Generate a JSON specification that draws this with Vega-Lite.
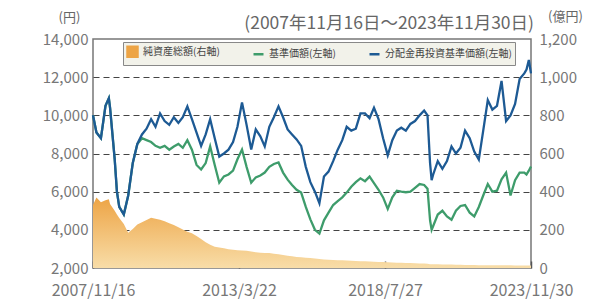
{
  "$schema": "https://vega.github.io/schema/vega-lite/v6.json",
  "autosize": {"type": "none"},
  "width": 438,
  "height": 229,
  "padding": {"left": 93, "top": 39, "right": 72, "bottom": 32},
  "background": "white",
  "title": {"text": "(2007年11月16日～2023年11月30日)", "anchor": "end", "frame": "group", "fontSize": 17.5, "font": "Noto Sans CJK JP", "fontWeight": "normal", "color": "#666", "offset": -22, "dx": 3},
  "config": {"view": {"stroke": "#777", "strokeWidth": 1.5}, "font": "Noto Sans CJK JP"},
  "data": {"values": [
    {"date": "2007/11/16", "nav": 10000, "navr": 10000, "aum": 330},
    {"date": "2008/01/01", "nav": 9100, "navr": 9100, "aum": 370},
    {"date": "2008/03/01", "nav": 8800, "navr": 8800, "aum": 345},
    {"date": "2008/05/01", "nav": 10500, "navr": 10500, "aum": 355},
    {"date": "2008/06/15", "nav": 10900, "navr": 10900, "aum": 360},
    {"date": "2008/07/01", "nav": 10400, "navr": 10400, "aum": 335},
    {"date": "2008/09/01", "nav": 7700, "navr": 7700, "aum": 300},
    {"date": "2008/10/01", "nav": 6000, "navr": 6000, "aum": 280},
    {"date": "2008/11/01", "nav": 5200, "navr": 5200, "aum": 262},
    {"date": "2009/01/01", "nav": 4800, "navr": 4800, "aum": 230},
    {"date": "2009/03/01", "nav": 5800, "navr": 5800, "aum": 185},
    {"date": "2009/05/01", "nav": 7500, "navr": 7500, "aum": 205},
    {"date": "2009/07/01", "nav": 8500, "navr": 8500, "aum": 228},
    {"date": "2009/09/01", "nav": 8800, "navr": 9000, "aum": 240},
    {"date": "2009/11/01", "nav": 8700, "navr": 9300, "aum": 252},
    {"date": "2010/01/01", "nav": 8600, "navr": 9800, "aum": 263},
    {"date": "2010/03/01", "nav": 8400, "navr": 9400, "aum": 258},
    {"date": "2010/05/01", "nav": 8300, "navr": 10100, "aum": 253},
    {"date": "2010/07/01", "nav": 8400, "navr": 9700, "aum": 245},
    {"date": "2010/09/01", "nav": 8200, "navr": 9500, "aum": 235},
    {"date": "2010/11/01", "nav": 8370, "navr": 9900, "aum": 225},
    {"date": "2011/01/01", "nav": 8500, "navr": 9600, "aum": 214},
    {"date": "2011/03/01", "nav": 8300, "navr": 9900, "aum": 202},
    {"date": "2011/05/01", "nav": 8700, "navr": 10470, "aum": 190},
    {"date": "2011/07/01", "nav": 8200, "navr": 9800, "aum": 182},
    {"date": "2011/09/01", "nav": 7400, "navr": 9100, "aum": 168},
    {"date": "2011/11/01", "nav": 7160, "navr": 8400, "aum": 152},
    {"date": "2012/01/01", "nav": 7500, "navr": 9000, "aum": 135},
    {"date": "2012/03/01", "nav": 8370, "navr": 9800, "aum": 122},
    {"date": "2012/05/01", "nav": 7400, "navr": 8800, "aum": 112},
    {"date": "2012/07/01", "nav": 6470, "navr": 7840, "aum": 108},
    {"date": "2012/09/01", "nav": 6800, "navr": 8000, "aum": 103},
    {"date": "2012/11/01", "nav": 6900, "navr": 8200, "aum": 98},
    {"date": "2013/01/01", "nav": 7100, "navr": 8600, "aum": 95},
    {"date": "2013/03/01", "nav": 7700, "navr": 9400, "aum": 93},
    {"date": "2013/05/01", "nav": 8210, "navr": 10680, "aum": 92},
    {"date": "2013/07/01", "nav": 7300, "navr": 9500, "aum": 90},
    {"date": "2013/09/01", "nav": 6470, "navr": 8210, "aum": 87},
    {"date": "2013/11/01", "nav": 6750, "navr": 9260, "aum": 82},
    {"date": "2014/01/01", "nav": 6850, "navr": 8900, "aum": 80},
    {"date": "2014/03/01", "nav": 7000, "navr": 8370, "aum": 79},
    {"date": "2014/05/01", "nav": 7300, "navr": 9400, "aum": 78},
    {"date": "2014/07/01", "nav": 7450, "navr": 9900, "aum": 75},
    {"date": "2014/09/01", "nav": 7530, "navr": 10470, "aum": 72},
    {"date": "2014/11/01", "nav": 7000, "navr": 9900, "aum": 68},
    {"date": "2015/01/01", "nav": 6630, "navr": 9260, "aum": 64},
    {"date": "2015/03/01", "nav": 6350, "navr": 9000, "aum": 61},
    {"date": "2015/05/01", "nav": 6100, "navr": 8740, "aum": 58},
    {"date": "2015/07/01", "nav": 5950, "navr": 8400, "aum": 56},
    {"date": "2015/09/01", "nav": 5200, "navr": 7300, "aum": 54},
    {"date": "2015/11/01", "nav": 4550, "navr": 6500, "aum": 53},
    {"date": "2016/01/01", "nav": 4000, "navr": 6000, "aum": 50},
    {"date": "2016/03/01", "nav": 3800, "navr": 5400, "aum": 47},
    {"date": "2016/05/01", "nav": 4500, "navr": 6790, "aum": 45},
    {"date": "2016/07/01", "nav": 4900, "navr": 7050, "aum": 43},
    {"date": "2016/09/01", "nav": 5300, "navr": 7600, "aum": 42},
    {"date": "2016/11/01", "nav": 5500, "navr": 8200, "aum": 41},
    {"date": "2017/01/01", "nav": 5700, "navr": 8700, "aum": 40},
    {"date": "2017/03/01", "nav": 5950, "navr": 9400, "aum": 39},
    {"date": "2017/05/01", "nav": 6260, "navr": 9200, "aum": 38},
    {"date": "2017/07/01", "nav": 6500, "navr": 9300, "aum": 37},
    {"date": "2017/09/01", "nav": 6700, "navr": 10100, "aum": 36},
    {"date": "2017/11/01", "nav": 6550, "navr": 10100, "aum": 35},
    {"date": "2018/01/01", "nav": 6790, "navr": 9850, "aum": 34},
    {"date": "2018/03/01", "nav": 6450, "navr": 10400, "aum": 33},
    {"date": "2018/05/01", "nav": 6100, "navr": 9800, "aum": 32},
    {"date": "2018/07/01", "nav": 5700, "navr": 8800, "aum": 31},
    {"date": "2018/09/01", "nav": 5100, "navr": 7900, "aum": 30},
    {"date": "2018/11/01", "nav": 5700, "navr": 8700, "aum": 29},
    {"date": "2019/01/01", "nav": 6050, "navr": 9200, "aum": 28},
    {"date": "2019/03/01", "nav": 6000, "navr": 9350, "aum": 27},
    {"date": "2019/05/01", "nav": 5970, "navr": 9200, "aum": 26},
    {"date": "2019/07/01", "nav": 6000, "navr": 9550, "aum": 26},
    {"date": "2019/09/01", "nav": 6200, "navr": 9700, "aum": 25},
    {"date": "2019/11/01", "nav": 6400, "navr": 10000, "aum": 24},
    {"date": "2020/01/01", "nav": 6350, "navr": 10250, "aum": 23},
    {"date": "2020/02/15", "nav": 6150, "navr": 10000, "aum": 22},
    {"date": "2020/03/20", "nav": 4500, "navr": 7500, "aum": 20},
    {"date": "2020/04/10", "nav": 4000, "navr": 6600, "aum": 19},
    {"date": "2020/05/01", "nav": 4200, "navr": 6900, "aum": 19},
    {"date": "2020/07/01", "nav": 4800, "navr": 7600, "aum": 19},
    {"date": "2020/09/01", "nav": 5000, "navr": 7200, "aum": 18},
    {"date": "2020/11/01", "nav": 4700, "navr": 7600, "aum": 18},
    {"date": "2021/01/01", "nav": 4530, "navr": 8370, "aum": 18},
    {"date": "2021/03/01", "nav": 5000, "navr": 8000, "aum": 17},
    {"date": "2021/05/01", "nav": 5250, "navr": 8300, "aum": 17},
    {"date": "2021/07/01", "nav": 5300, "navr": 9200, "aum": 16},
    {"date": "2021/09/01", "nav": 4900, "navr": 8800, "aum": 16},
    {"date": "2021/11/01", "nav": 4700, "navr": 8100, "aum": 16},
    {"date": "2022/01/01", "nav": 5200, "navr": 7680, "aum": 15},
    {"date": "2022/03/01", "nav": 5800, "navr": 9200, "aum": 15},
    {"date": "2022/05/01", "nav": 6400, "navr": 10800, "aum": 15},
    {"date": "2022/07/01", "nav": 6000, "navr": 10300, "aum": 15},
    {"date": "2022/09/01", "nav": 6050, "navr": 10500, "aum": 14},
    {"date": "2022/11/01", "nav": 6650, "navr": 11800, "aum": 14},
    {"date": "2023/01/01", "nav": 7000, "navr": 9700, "aum": 14},
    {"date": "2023/03/01", "nav": 5800, "navr": 10000, "aum": 14},
    {"date": "2023/05/01", "nav": 6600, "navr": 10600, "aum": 13},
    {"date": "2023/07/01", "nav": 7000, "navr": 11900, "aum": 13},
    {"date": "2023/09/01", "nav": 7000, "navr": 12200, "aum": 13},
    {"date": "2023/10/01", "nav": 6900, "navr": 12400, "aum": 13},
    {"date": "2023/11/01", "nav": 7100, "navr": 12900, "aum": 13},
    {"date": "2023/11/30", "nav": 7320, "navr": 12200, "aum": 13}
  ]},
  "encoding": {
    "x": {
      "field": "date", "type": "temporal",
      "scale": {"domain": [{"year": 2007, "month": 11, "date": 16}, {"year": 2023, "month": 11, "date": 30}]},
      "axis": {
        "title": null,
        "values": [{"year": 2007, "month": 11, "date": 16}, {"year": 2013, "month": 3, "date": 22}, {"year": 2018, "month": 7, "date": 27}, {"year": 2023, "month": 11, "date": 30}],
        "format": "%Y/%-m/%-d",
        "labelFlush": false,
        "labelFontSize": 16,
        "labelColor": "#777",
        "labelPadding": 21,
        "domain": false,
        "grid": false,
        "tickSize": -7,
        "tickColor": "#555",
        "tickWidth": 1.5
      }
    }
  },
  "layer": [
    {
      "mark": {"type": "area", "fill": {"gradient": "linear", "x1": 0, "y1": 0, "x2": 0, "y2": 1, "stops": [{"offset": 0, "color": "#EDA445"}, {"offset": 1, "color": "#F8DDA8"}]}},
      "encoding": {
        "y": {
          "field": "aum", "type": "quantitative",
          "scale": {"domain": [0, 1200]},
          "axis": {
            "orient": "right", "values": [0, 200, 400, 600, 800, 1000, 1200], "format": ",d",
            "grid": false, "ticks": false, "domain": false,
            "labelFontSize": 15, "labelColor": "#777", "labelPadding": 8,
            "title": "(億円)", "titleAngle": 0, "titleX": 34, "titleY": -23,
            "titleAlign": "center", "titleBaseline": "middle",
            "titleFontSize": 13, "titleFontWeight": "normal", "titleColor": "#666"
          }
        }
      }
    },
    {
      "transform": [{"fold": ["nav", "navr"]}],
      "mark": {"type": "line", "strokeWidth": 2.3},
      "encoding": {
        "y": {
          "field": "value", "type": "quantitative",
          "scale": {"domain": [2000, 14000]},
          "axis": {
            "orient": "left", "values": [2000, 4000, 6000, 8000, 10000, 12000, 14000], "format": ",d",
            "grid": true, "gridDash": [6, 4], "gridColor": "#444", "gridWidth": 1.2,
            "gridOpacity": {"condition": {"test": "datum.value == 2000 || datum.value == 14000", "value": 0}, "value": 1},
            "ticks": false, "domain": false,
            "labelFontSize": 15, "labelColor": "#777", "labelPadding": 5,
            "title": "(円)", "titleAngle": 0, "titleX": -24, "titleY": -22,
            "titleAlign": "center", "titleBaseline": "middle",
            "titleFontSize": 13, "titleFontWeight": "normal", "titleColor": "#666"
          }
        },
        "color": {
          "field": "key", "type": "nominal",
          "scale": {"domain": ["aum", "nav", "navr"], "range": ["#EDA445", "#3E9C6B", "#1D5A94"]},
          "legend": {
            "orient": "none", "legendX": 30, "legendY": 3, "direction": "horizontal",
            "title": null, "fillColor": "#f2f2ea", "strokeColor": "#888",
            "padding": 3, "labelFontSize": 10, "labelColor": "#444",
            "symbolSize": 100, "symbolStrokeWidth": 2.5, "columnPadding": 28,
            "labelExpr": "datum.value == 'aum' ? '純資産総額(右軸)' : datum.value == 'nav' ? '基準価額(左軸)' : '分配金再投資基準価額(左軸)'",
            "encode": {"symbols": {"update": {
              "shape": {"signal": "datum.value == 'aum' ? 'square' : 'stroke'"},
              "fill": {"signal": "datum.value == 'aum' ? '#EDA445' : 'transparent'"}
            }}}
          }
        }
      }
    }
  ],
  "resolve": {"scale": {"y": "independent"}}
}
